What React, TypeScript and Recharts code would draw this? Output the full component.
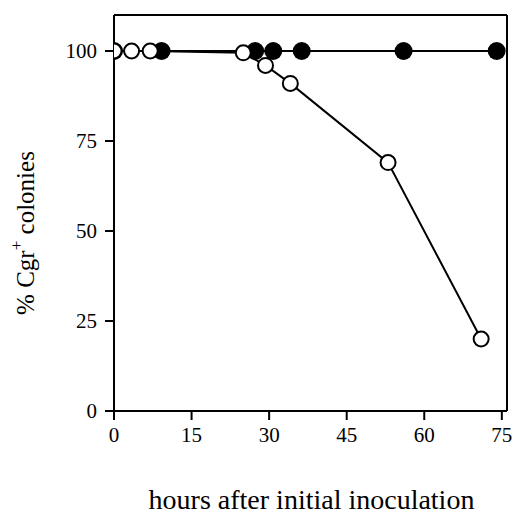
import { LineChart, Line, XAxis, YAxis, Label, ReferenceLine } from 'recharts';

// hours after inoculation / % Cgr+ colonies
const openHours = [0, 3.4, 7, 25, 29.3, 34.1, 53, 71];
const openPct = [100, 100, 100, 99.5, 96, 91, 69, 20];

const filledHours = [0, 9.2, 27.3, 30.8, 36.3, 56, 74];
const filledPct = [100, 100, 100, 100, 100, 100, 100];

const xTicks = [0, 15, 30, 45, 60, 75];
const yTicks = [0, 25, 50, 75, 100];

const X_MAX = 76;
const Y_MAX = 110;

const FONT = '"Liberation Serif", "Times New Roman", serif';

const openData = openHours.map((x, i) => ({ x, y: openPct[i] }));
const filledData = filledHours.map((x, i) => ({ x, y: filledPct[i] }));

const YLabel = (props: any) => {
  const { viewBox } = props;
  const cx = viewBox.x + 25;
  const cy = viewBox.y + viewBox.height / 2 + 20;
  return (
    <text
      x={cx}
      y={cy}
      transform={`rotate(-90, ${cx}, ${cy})`}
      textAnchor="middle"
      dominantBaseline="central"
      fontFamily={FONT}
      fontSize={25}
      fill="#000"
    >
      <tspan>% Cgr</tspan>
      <tspan dy={-9} fontSize={17}>+</tspan>
      <tspan dy={9}> colonies</tspan>
    </text>
  );
};

const XLabel = (props: any) => {
  const { viewBox } = props;
  return (
    <text
      x={viewBox.x + viewBox.width / 2 + 1}
      y={viewBox.y + viewBox.height - 8}
      textAnchor="middle"
      fontFamily={FONT}
      fontSize={28}
      fill="#000"
    >
      hours after initial inoculation
    </text>
  );
};

const App = () => {
  return (
    <div style={{ position: 'absolute', left: 0, top: 0, background: '#fff' }}>
      <LineChart width={515} height={517} margin={{ top: 15, right: 8, left: 0, bottom: 0 }}>
        <XAxis
          xAxisId="bottom"
          dataKey="x"
          type="number"
          domain={[0, X_MAX]}
          ticks={xTicks}
          allowDataOverflow
          height={106}
          stroke="#000"
          strokeWidth={2}
          tickSize={9}
          tickMargin={7}
          tick={{ fill: '#000', fontFamily: FONT, fontSize: 21 }}
        >
          <Label content={<XLabel />} />
        </XAxis>
        <YAxis
          yAxisId="left"
          type="number"
          domain={[0, Y_MAX]}
          ticks={yTicks}
          width={114}
          stroke="#000"
          strokeWidth={2}
          tickSize={9}
          tickMargin={8}
          tick={{ fill: '#000', fontFamily: FONT, fontSize: 21 }}
        >
          <Label content={<YLabel />} />
        </YAxis>
        <ReferenceLine xAxisId="bottom" yAxisId="left" y={Y_MAX} stroke="#000" strokeWidth={2} />
        <ReferenceLine xAxisId="bottom" yAxisId="left" x={X_MAX} stroke="#000" strokeWidth={2} />
        <Line
          xAxisId="bottom"
          yAxisId="left"
          data={filledData}
          dataKey="y"
          stroke="#000"
          strokeWidth={2}
          dot={{ r: 9, fill: '#000', stroke: 'none' }}
          isAnimationActive={false}
        />
        <Line
          xAxisId="bottom"
          yAxisId="left"
          data={openData}
          dataKey="y"
          stroke="#000"
          strokeWidth={2}
          dot={{ r: 7.5, fill: '#fff', stroke: '#000', strokeWidth: 2 }}
          isAnimationActive={false}
        />
      </LineChart>
    </div>
  );
};

export default App;
